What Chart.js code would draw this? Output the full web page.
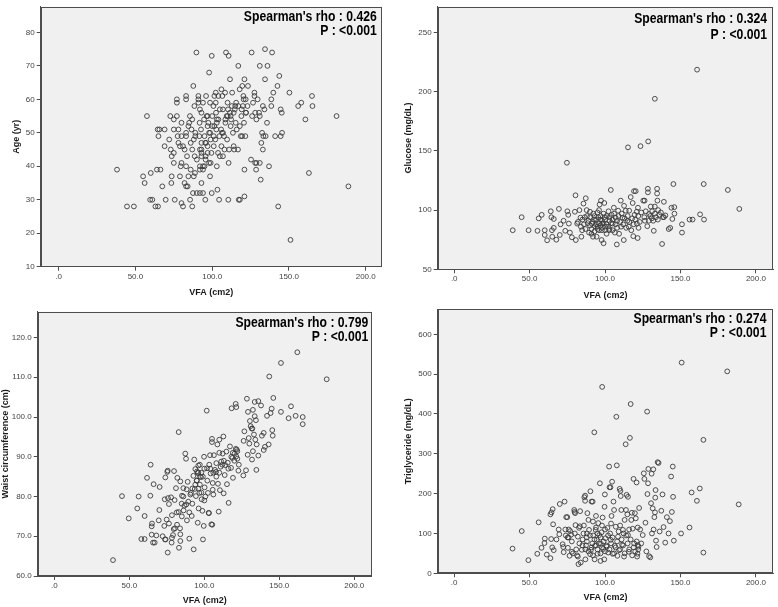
<!DOCTYPE html>
<html>
<head>
<meta charset="utf-8">
<script src="https://cdn.jsdelivr.net/npm/chart.js@4/dist/chart.umd.min.js"></script>
<style>
html,body{margin:0;padding:0;background:#fff;}
body{width:778px;height:607px;position:relative;overflow:hidden;}
canvas{position:absolute;}
</style>
</head>
<body>
<canvas id="c1" width="390" height="302" style="left:0;top:0"></canvas>
<canvas id="c2" width="388" height="302" style="left:390px;top:0"></canvas>
<canvas id="c3" width="390" height="305" style="left:0;top:302px"></canvas>
<canvas id="c4" width="388" height="305" style="left:390px;top:302px"></canvas>
<script>
// ---------------- DATA ----------------
const vfaTicks = [0, 50, 100, 150, 200];
const ageTicks = [10, 20, 30, 40, 50, 60, 70, 80];
const glucoseTicks = [50, 100, 150, 200, 250];
const waistTicks = [60, 70, 80, 90, 100, 110, 120];
const tgTicks = [0, 100, 200, 300, 400, 500, 600];

const xTitle = 'VFA (cm2)';
const yTitles = ['Age (yr)', 'Glucose (mg/dL)', 'Waist circumference (cm)', 'Triglyceride (mg/dL)'];
const rhoTexts = ["Spearman's rho : 0.426", "Spearman's rho : 0.324", "Spearman's rho : 0.799", "Spearman's rho : 0.274"];
const pText = 'P : <0.001';

// [VFA, Age]
const agePairs = [[38,39],[44.5,28],[49,28],[55,37],[56,35],[57.5,55],[59.6,30],[61,30],[60,38],[64,39],[66.3,39],[63,28],[64.7,28],[64.5,51],[65.6,51],[65,49],[69,51],[67.5,34],[69,46],[69.7,30],[72,48],[72.7,55],[73,45],[73.6,43],[73.6,37],[73.4,35],[75,54],[75,51],[75,41],[75,44],[75.6,30],[77,55],[77,60],[77,59],[78,51],[77.5,49],[78,47],[79,46],[79,37],[79.5,40],[80,53],[80,49],[80,29],[81,28],[80,41],[81,46],[82,45],[82,35],[83,34],[83,61],[83,60],[83,49],[83,50],[83.6,43],[83,40],[84,34],[84.5,37],[84.5,52],[85,53],[85.5,55],[85.6,30],[86,39],[86.5,51],[87,45],[87,28],[87,54],[87.5,32],[88,48],[87.7,64],[88.4,58],[88,37],[88.6,43],[88.8,38],[89,49],[89.7,74],[90,42],[90,32],[91,61],[91,60],[91,59],[91.6,49],[91.8,53],[92,57],[92,32],[92,40],[92,39],[92.7,51],[93,56],[93,47],[93,45],[93,44],[93,43],[93,35],[94,32],[94,59],[94,40],[94,39],[94.7,54],[95,49],[95.5,47],[95.7,43],[95.7,42],[95.5,30],[96,61],[96.4,55],[97,55],[97,46],[97.5,53],[98,68],[98,41],[99,41],[98.6,59],[98.6,37],[98.6,50],[99.7,32],[99.7,73],[100,55],[99.5,44],[100.8,58],[101,49],[101.4,52],[101.4,61],[102,48],[102.3,62],[102.3,59],[102.7,51],[103,40],[102.5,56],[103,54],[103,53],[103.4,33],[103.8,44],[104,61],[104.5,30],[104.7,49],[105,57],[105,43],[105.8,51],[106,46],[106,63],[106.4,50],[107,50],[106.6,61],[107,43],[107.7,49],[108.4,62],[108.6,54],[109.4,55],[108.6,53],[109,74],[109.7,48],[110,59],[110.3,57],[110.7,41],[110.5,30],[110.7,73],[111,45],[111.6,66],[111.6,56],[112,55],[112.3,54],[112.8,58],[113,62],[113.5,50],[114,46],[114.3,45],[114.7,57],[115,58],[115.6,59],[115.3,53],[116,51],[116.8,45],[117,70],[117.3,30],[118,30],[117.9,63],[118,52],[118.6,49],[119.5,49],[119,55],[119.2,57],[119.6,64],[120.3,61],[120.5,60],[121.8,60],[120.7,53],[121,31],[121,39],[121,66],[121.6,49],[122,56],[123,58],[123.3,64],[125.3,42],[125.7,74],[126,55],[126.6,59],[127.5,62],[127.5,61],[128,56],[128,41],[128.8,41],[128.6,39],[128.8,54],[129.6,60],[130.5,56],[131,70],[131,55],[131,41],[131.6,36],[132,47],[132.5,50],[133,58],[133,45],[133.3,49],[134,57],[134.4,75],[134.4,66],[134.8,49],[135.7,53],[136,70],[137,40],[138.5,60],[138.5,58],[139,74],[139.8,62],[141,49],[142.5,64],[143,28],[143.7,67],[144.6,57],[145.3,56],[145.5,50],[144.6,49],[150.3,62],[151,18],[156,58],[158,59],[160.7,54],[163,38],[165,61],[165.3,58],[181,55],[188.7,34],
[96,47],[98,50],[100,52],[104,54],[107,57],[110,55],[112,52],[114,56],[117,58],[120,58],[122,56],[97,44],[99,48],[101,46],[108,45],[95,40],[92,45],[89,50],[86,47],[97,52]];

// [VFA, Glucose]
const glucosePairs = [[38.8,83],[44.7,94],[49.3,83],[55.2,82.5],[56,93],[58,96],[60,83],[60,79],[61.6,74.5],[64,99],[64.4,94],[64.8,83],[65,77.5],[66,85],[66,92.5],[67.7,75],[69.4,101],[70,79],[70.5,88],[72.5,91],[73.6,82.5],[74.7,140],[75,99],[75.6,96],[76,88.6],[76.7,81],[78,77],[80,98.6],[80.4,112.5],[80.6,74.7],[81.5,88.6],[83,100],[83.7,93.6],[84.3,77.5],[84.8,83],[85.7,105.5],[86.5,94],[87.2,110],[87.8,100],[88.5,89],[89.4,81],[90,98.6],[91,80],[92,77.5],[91.3,88.6],[92.2,97],[92.7,92],[93.3,86.4],[94.4,77.5],[95,86],[95.5,94],[96,100],[96.4,104.7],[97.3,108],[96.8,92],[97.7,74.7],[97.9,83],[98.1,88.6],[99,72],[99.5,106],[99.7,94],[100,86],[101,80],[102.3,99],[102.7,83],[103,91],[103.8,117],[104.3,96],[105,88.6],[105.8,102],[106.5,81],[107,93.6],[107.8,71],[108.7,99.5],[109.3,80],[110.4,108],[110.6,86],[111.5,93.6],[112.4,74.7],[112.6,103.6],[113.7,99.5],[114.8,91],[115.2,153],[115.7,86],[116,99.5],[117,111],[117.4,83],[118.3,106],[118.7,78],[119.2,116],[120.3,116],[119.6,96],[121,98.6],[121.1,88.6],[121.6,76.4],[121.8,102],[122.2,85],[123.5,154],[125.3,108],[126.2,108],[126.4,91],[128,86.4],[128.4,118],[128.4,115],[128.6,158],[129.2,96.7],[130.3,103],[131.2,99],[131.9,91],[132.3,82.5],[133,194],[133,103],[133.8,94],[134.5,118],[134.5,114],[134.7,108],[135.2,100],[136,96],[137.8,71.4],[138.4,94],[139,107],[140,95.5],[142.2,84],[143.2,85],[144,102],[144.6,92.5],[145.3,122],[145.9,102.5],[146,97],[151,88],[151,81],[156,92],[158,92],[161,218.6],[163,96.4],[165.4,122],[165.6,92],[181.4,117],[189,101],
[82,90],[84,86],[85,92],[86,88],[87,84],[88,95],[89,91],[90,87],[90,94],[91,84],[92,90],[93,95],[93,82],[94,88],[94,92],[95,84],[95,98],[96,89],[96,83],[97,95],[97,87],[98,91],[98,85],[99,97],[99,89],[100,92],[100,83],[101,95],[101,88],[102,86],[103,94],[103,84],[104,89],[105,92],[105,83],[106,97],[107,88],[108,91],[108,85],[109,95],[110,90],[111,97],[112,88],[113,93],[114,85],[115,95],[116,90],[118,93],[119,88],[120,92],[122,95],[123,90],[124,98],[126,94],[127,99],[129,91],[130,95],[131,93],[133,97],[135,92],[137,98],[139,94]];

// [VFA, Waist circumference]
const waistPairs = [[39.1,64],[45.1,80.1],[49.6,74.5],[55.3,77],[56.2,80],[58,69.3],[60.2,69.3],[60.2,75.1],[61.8,84.7],[64,80.2],[64.2,88],[64.9,72.5],[65.1,73.2],[64.9,70.4],[65.8,68.4],[66.9,68.4],[66.2,83.1],[68,70.2],[69.6,74],[70,76.6],[70.2,82.4],[72.2,70],[73.3,72.6],[73.6,79.3],[73.8,69.2],[74.2,69.2],[74,84.8],[74.9,74.2],[75.3,86.2],[75.6,86.5],[75.6,65.9],[75.8,79.6],[76.4,78.1],[76.4,73.2],[77.8,79.8],[78.2,68.4],[78.4,69.6],[78.4,75.3],[79.1,70.3],[79.6,71.8],[80.4,72],[79.8,86.4],[80.2,79.1],[81.1,82.1],[81.6,76],[81.8,72.9],[82,84.7],[82.9,96.2],[82.9,76.1],[83.1,67.1],[83.8,72],[84,70.5],[84,68.8],[84,83.8],[84.9,78.2],[85.1,80.2],[86,82.1],[86.2,76.5],[86.7,77.7],[87.3,90.8],[87.8,89.5],[88.2,81.8],[88.4,74],[88.9,83.7],[89.3,78.7],[90,69.4],[90.7,80.5],[91.1,80.9],[91.6,75.1],[92,78.2],[92.7,85.2],[92.9,66.7],[93.3,89.3],[93.6,81.9],[94,86.9],[94.4,80.1],[94.9,84],[95.1,86.3],[95.6,85.9],[95.6,73.4],[96,87.8],[96.2,77],[96.7,80.9],[97.1,85],[97.8,84.9],[98.2,79.3],[98.7,76.4],[99.1,69.2],[99.6,72.6],[99.8,90],[100.2,82.3],[100.7,80],[101.6,101.6],[101.8,87.1],[102.4,80.9],[102.9,75.9],[103.1,75.8],[103.3,88],[103.8,90.4],[104.2,85.8],[104.7,73],[105.3,72.9],[105.1,94.5],[105.1,93.7],[105.6,83.4],[105.6,81.7],[106,80.5],[106.4,90.4],[107.1,86.7],[107.8,86.2],[108,88.4],[108.7,93.1],[109.1,83.2],[109.6,76.2],[110,94.3],[110.4,81.6],[110.9,87.5],[111.3,88.8],[112.2,90.8],[112.7,95.1],[112.9,80.8],[113.6,85.4],[114,87.9],[114.7,91.3],[115.1,83.1],[115.6,88.5],[116.2,78.4],[117.1,92.6],[117.8,87.2],[118.2,102.2],[118.7,89.7],[119.1,84.7],[120.2,90.8],[121.3,90.1],[120.9,103.3],[121.3,102.5],[121.6,91.8],[122,91.4],[122,89.5],[122.7,86.5],[126,85.3],[126.2,94],[126.7,96.4],[127.8,86.6],[128.4,104.6],[128.9,90.5],[129.1,101.3],[129.6,94.7],[130,93.3],[130.4,99],[130.9,97.7],[131.6,97.1],[132,97.1],[131.8,89.3],[132.4,91.4],[132.4,101.8],[133.1,95.6],[133.6,103.8],[133.6,100.2],[134,94.3],[134.4,99.2],[134.7,86.7],[134.9,93.1],[136,104],[136,90.3],[137.8,102.9],[138.4,95.3],[139.6,96],[139.6,91.7],[140.4,92.5],[141.8,100.3],[142.9,93.1],[143.3,110.2],[144.2,101],[144.9,102.1],[145.3,96.7],[145.6,95.3],[146,104.8],[151.1,101.3],[151.1,113.6],[156.2,99.7],[157.8,102.7],[160.9,100.3],[162,116.3],[165.6,100],[165.6,98.2],[181.6,109.5],
[95,84],[96,86],[97,83],[98,86],[96,82],[94,83],[97,88],[99,85],[100,87],[102,84],[104,87],[106,86],[108,85],[110,86],[112,88],[113,89],[116,87],[118,90],[119,91],[120,89],[121,92],[100,79],[92,82],[90,76],[88,78],[86,80],[85,75],[110,91],[123,88],[98,81]];

// [VFA, Triglyceride]
const tgPairs = [[38.7,62],[44.8,106],[49.2,33],[55.1,49],[56,128],[57.9,64],[59.9,76],[60.1,87],[61.4,47],[63.8,38],[63.8,148],[64.5,153],[65.3,161],[64.3,86],[65,65],[65.6,123],[66,58],[67.8,85],[69.3,110],[69.7,98],[70,174],[71.9,73],[72.3,66],[72.6,53],[73.2,180],[73.7,110],[74.3,141],[75,141],[75.2,90],[75.8,90],[75.4,64],[76.5,44],[76.9,106],[77.6,97],[78,54],[78.7,50],[79.6,159],[79.8,154],[80.2,151],[80.4,121],[80.9,60],[81.5,45],[82,42],[82,92],[82.4,23],[82.8,114],[83.3,118],[83.5,156],[83.9,27],[84.6,59],[85.2,85],[85.7,100],[86.3,191],[86.8,195],[86.8,182],[87,35],[87.4,70],[87.9,90],[88.3,151],[89,134],[89.4,109],[90.1,48],[90.3,206],[90.7,59],[91.1,180],[91.8,180],[91.6,75],[92.2,95],[92.9,354],[93.1,35],[93.3,69],[93.8,109],[94,144],[94.6,84],[95.1,49],[95.5,126],[96.2,96],[96.6,226],[97,31],[97.3,74],[97.7,103],[98.1,468],[98.4,140],[98.8,61],[99.5,35],[99.7,167],[99.9,198],[100.3,88],[101.2,67],[101.6,114],[102.1,52],[102.7,268],[103,216],[103.6,216],[103.4,100],[103.8,84],[104.3,144],[104.7,230],[105.1,49],[105.6,180],[106,159],[106.4,69],[107.1,117],[107.5,393],[107.8,271],[108.2,44],[108.6,92],[109.3,58],[109.7,212],[110.2,207],[110.4,194],[110.8,159],[111.3,72],[111.9,109],[112.3,100],[112.6,42],[113,134],[113.7,324],[113.9,159],[114.3,197],[115.2,192],[114.8,148],[115.2,96],[115.8,54],[116.5,340],[117,425],[117.4,134],[117.8,152],[118.3,112],[118.9,237],[119.3,75],[119.8,151],[120.4,138],[120.9,228],[121.3,42],[121.5,49],[121.7,115],[122.2,67],[121.7,71],[122.6,164],[123.3,110],[125,96],[125.7,251],[126.1,237],[126.8,127],[127.4,55],[127.9,406],[128.1,199],[128.5,226],[128.7,262],[129.2,43],[130,40],[130.5,176],[130.9,250],[131.1,100],[131.6,163],[132,261],[132.2,110],[132.7,141],[133.1,153],[133.3,190],[133.5,209],[133.8,82],[134.2,66],[134.9,279],[135.5,277],[136.2,105],[137.3,157],[138.1,198],[138.8,116],[139.9,77],[141,141],[142.1,100],[143,131],[143.8,243],[144.3,154],[144.9,268],[145.1,192],[145.6,82],[150.4,100],[150.8,529],[156,115],[157.4,203],[160.9,182],[162.8,213],[165.2,335],[165.2,52],[181,507],[188.6,173],
[85,70],[87,60],[88,80],[89,55],[90,95],[91,65],[92,45],[93,85],[94,70],[95,60],[95,100],[96,75],[97,50],[97,90],[98,65],[99,80],[100,55],[100,110],[101,70],[102,95],[103,60],[104,75],[105,90],[106,50],[107,65],[108,80],[109,105],[110,60],[111,85],[112,70],[113,50],[114,95],[115,75],[116,60],[117,85],[118,45],[119,65],[120,55],[121,80],[122,60],[124,75],[86,120],[92,130],[98,120],[104,125],[110,120],[116,110],[88,100],[94,115],[80,100],[83,75],[78,80],[76,110],[74,95]];

// ---------------- RENDERING ----------------
const FONT = "'Liberation Sans', Arial, sans-serif";

const framePlugin = {
  id: 'frame',
  beforeDraw(chart) {
    const a = chart.chartArea, ctx = chart.ctx;
    ctx.save();
    ctx.fillStyle = '#f0f0f0';
    ctx.fillRect(a.left, a.top, a.right - a.left, a.bottom - a.top);
    ctx.restore();
  },
  afterDraw(chart) {
    const a = chart.chartArea, ctx = chart.ctx, o = chart.options.plugins.frame;
    ctx.save();
    ctx.strokeStyle = '#4d4d4d';
    ctx.lineWidth = 1;
    ctx.strokeRect(Math.round(a.left) + 0.5, Math.round(a.top) + 0.5, Math.round(a.right - a.left) - 1, Math.round(a.bottom - a.top) - 1);
    ctx.restore();
    // annotation text, horizontally condensed to match the reference typeface
    const sx = 0.87;
    ctx.save();
    ctx.fillStyle = '#000';
    ctx.font = 'bold 14px ' + FONT;
    ctx.textAlign = 'right';
    ctx.textBaseline = 'middle';
    ctx.translate(a.right - o.inset, a.top);
    ctx.scale(sx, 1);
    ctx.fillText(o.rho, 0, o.l1);
    ctx.fillText(pText, 0, o.l2);
    ctx.restore();
  }
};

function makeChart(id, pairs, cfg) {
  const cv = document.getElementById(id);
  const W = cv.width, H = cv.height;
  return new Chart(cv, {
    type: 'scatter',
    data: {
      datasets: [{
        data: pairs.map(p => ({x: p[0], y: p[1]})),
        pointStyle: 'circle',
        pointRadius: 2.4,
        pointBorderWidth: 0.9,
        pointBorderColor: '#3c3c3c',
        pointBackgroundColor: 'rgba(0,0,0,0)'
      }]
    },
    options: {
      responsive: false,
      animation: false,
      events: [],
      layout: {padding: {left: 0, top: cfg.T, right: W - cfg.R, bottom: 0}},
      plugins: {
        legend: {display: false},
        tooltip: {enabled: false},
        frame: {rho: cfg.rho, inset: cfg.inset, l1: cfg.l1, l2: cfg.l2}
      },
      scales: {
        x: {
          type: 'linear', position: 'bottom',
          min: cfg.xmin, max: cfg.xmax,
          afterBuildTicks: s => { s.ticks = vfaTicks.map(v => ({value: v})); },
          afterFit: s => { s.height = H - cfg.B; },
          ticks: {
            autoSkip: false, maxRotation: 0, padding: 1,
            font: {family: FONT, size: 8}, color: '#444',
            callback: v => v === 0 ? '.0' : Number(v).toFixed(1)
          },
          grid: {display: true, drawOnChartArea: false, drawTicks: true, tickLength: 4, color: '#4d4d4d'},
          border: {display: true, color: '#4d4d4d'},
          title: {display: true, text: xTitle, color: '#1a1a1a',
                  font: {family: FONT, size: 9, weight: 'bold'},
                  padding: {top: 0, bottom: cfg.xpb}}
        },
        y: {
          type: 'linear', position: 'left',
          min: cfg.ymin, max: cfg.ymax,
          afterBuildTicks: s => { s.ticks = cfg.yticks.map(v => ({value: v})); },
          afterFit: s => { s.width = cfg.L; },
          ticks: {
            autoSkip: false, padding: 2,
            font: {family: FONT, size: 8}, color: '#444',
            callback: v => cfg.ydec ? Number(v).toFixed(1) : String(v)
          },
          grid: {display: true, drawOnChartArea: false, drawTicks: true, tickLength: 4, color: '#4d4d4d'},
          border: {display: true, color: '#4d4d4d'},
          title: {display: true, text: cfg.ytitle, color: '#1a1a1a',
                  font: {family: FONT, size: 9, weight: 'bold'},
                  padding: {top: cfg.ypt, bottom: 0}}
        }
      }
    },
    plugins: [framePlugin]
  });
}

makeChart('c1', agePairs, {
  L: 40.7, R: 381.7, T: 2.7, B: 266.7,
  xmin: -11.7, xmax: 210.4, ymin: 10, ymax: 87.65, yticks: ageTicks, ydec: false,
  ytitle: yTitles[0], ypt: 11.3, xpb: 4.3,
  rho: rhoTexts[0], inset: 5, l1: 10, l2: 24.6
});
makeChart('c2', glucosePairs, {
  L: 47.7, R: 386, T: 3.3, B: 269.3,
  xmin: -10.95, xmax: 211.4, ymin: 50, ymax: 271.7, yticks: glucoseTicks, ydec: false,
  ytitle: yTitles[1], ypt: 13.6, xpb: 1.3,
  rho: rhoTexts[1], inset: 6, l1: 12.7, l2: 28.4
});
makeChart('c3', waistPairs, {
  L: 37.7, R: 371.7, T: 9.7, B: 274,
  xmin: -11.1, xmax: 211.6, ymin: 60, ymax: 126.5, yticks: waistTicks, ydec: true,
  ytitle: yTitles[2], ypt: 0, xpb: 1.3,
  rho: rhoTexts[2], inset: 3.4, l1: 11, l2: 25.6
});
makeChart('c4', tgPairs, {
  L: 47.7, R: 386.7, T: 7, B: 271.3,
  xmin: -10.9, xmax: 211.4, ymin: 0, ymax: 663.6, yticks: tgTicks, ydec: false,
  ytitle: yTitles[3], ypt: 13.6, xpb: 4.3,
  rho: rhoTexts[3], inset: 6.7, l1: 10, l2: 24.3
});
</script>
</body>
</html>
